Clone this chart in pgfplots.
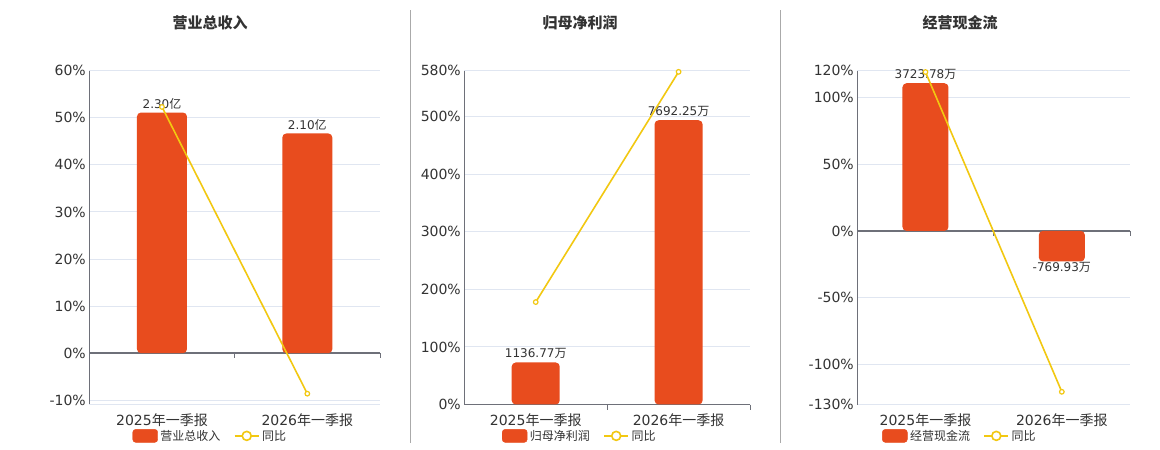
\documentclass[border=0pt]{standalone}
\usepackage{pgfplots}
\pgfplotsset{compat=1.18}
\usepackage{fontspec}
\setmainfont{DejaVu Sans}
\newfontfamily\cjk{Noto Sans CJK SC}
\definecolor{barred}{HTML}{E84C1E}
\definecolor{lineyel}{HTML}{F2C811}
\definecolor{gridc}{HTML}{E0E6F1}
\definecolor{axisc}{HTML}{6E7079}
\definecolor{txt}{HTML}{333333}
\definecolor{sepc}{HTML}{AAAAAA}
\newcommand\tickfont{\fontsize{14bp}{16bp}\selectfont}
\newcommand\lblfont{\fontsize{12bp}{14bp}\selectfont}
\pgfplotsset{
  panel/.style={scale only axis, anchor=south west, height=333.8bp,
    xmin=-0.5, xmax=1.5, clip=false},
  hidden/.style={panel, axis lines=none, xtick=\empty, ytick=\empty},
  frameax/.style={panel, axis x line*=bottom, axis y line*=left,
    x axis line style={draw=none}, y axis line style={axisc, line width=1bp, -},
    xtick={0,1}, xticklabels={2025{\cjk 年一季报}, 2026{\cjk 年一季报}},
    major tick length=0pt, xtick style={draw=none}, ytick style={draw=none},
    ymajorgrids, grid style={gridc, line width=1bp},
    yticklabel style={font=\tickfont, text=txt},
    xticklabel style={font=\tickfont, text=txt, yshift=-6bp}},
  barplot/.style={ybar, fill=barred, draw=none, rounded corners=4bp,
    point meta=explicit symbolic, nodes near coords={\pgfplotspointmeta},
    visualization depends on={y \as \rawy},
    every node near coord/.append style={font=\lblfont, text=txt, rounded corners=0pt},
    every node near coord/.append code={\ifdim\rawy pt<0pt \pgfkeysalso{anchor=north, inner sep=1bp}\fi}},
  lineplot/.style={lineyel, line width=1.6bp, mark=*, mark size=2.3bp,
    mark options={fill=white, line width=1.2bp},
    legend image code/.code={
      \draw[lineyel, line width=1.6bp] (0bp,0bp) -- (24bp,0bp);
      \draw[lineyel, line width=1.6bp, fill=white] (12bp,0bp) circle (4.5bp);}},
  barlegend/.style={legend image code/.code={
      \fill[barred, rounded corners=3bp] (0bp,-6.5bp) rectangle (25bp,6.5bp);}},
  mylegend/.style={legend style={at={(#1,-0.094)}, anchor=center, draw=none, fill=none,
    legend columns=2, font=\lblfont, text=txt,
    nodes={inner sep=2.5bp},
    /tikz/every even column/.append style={column sep=11bp}}}
}
\begin{document}
\begin{tikzpicture}
\path[use as bounding box, fill=white] (0bp,0bp) rectangle (1160bp,450bp);
\draw[sepc, line width=1bp] (410bp,7bp) -- (410bp,440bp);
\draw[sepc, line width=1bp] (780bp,7bp) -- (780bp,440bp);
\node[font=\fontsize{15bp}{18bp}\selectfont\bfseries\cjk, text=txt] at (210bp,427bp) {营业总收入};
\node[font=\fontsize{15bp}{18bp}\selectfont\bfseries\cjk, text=txt] at (580bp,427bp) {归母净利润};
\node[font=\fontsize{15bp}{18bp}\selectfont\bfseries\cjk, text=txt] at (960bp,427bp) {经营现金流};

% ---------- Panel 1 ----------
\begin{axis}[frameax, at={(89.3bp,45.5bp)}, width=290.7bp, ymin=-10.9, ymax=60,
  ytick={-10,0,10,...,60}, yticklabels={-10\%,0\%,10\%,20\%,30\%,40\%,50\%,60\%}]
  \draw[gridc, line width=1bp] (axis cs:-0.5,-10.9) -- (axis cs:1.5,-10.9);
  \draw[axisc, line width=1.5bp] (axis cs:-0.5,0) -- (axis cs:1.5,0);
  \draw[axisc, line width=1bp] (axis cs:0.5,0) -- ++(0bp,-5bp);
  \draw[axisc, line width=1bp] (axis cs:1.5,0) -- ++(0bp,-5bp);
\end{axis}
\begin{axis}[hidden, at={(89.3bp,45.5bp)}, width=290.7bp, ymin=-0.4905, ymax=2.700]
  \addplot[barplot, bar width=50bp] coordinates {(0,2.30) [2.30{\cjk 亿}] (1,2.10) [2.10{\cjk 亿}]};
\end{axis}
\begin{axis}[hidden, at={(89.3bp,45.5bp)}, width=290.7bp, ymin=-10.9, ymax=60, mylegend=0.417]
  \addlegendimage{barlegend}
  \addlegendentry{{\cjk 营业总收入}}
  \addplot[lineplot] coordinates {(0,52.3) (1,-8.6)};
  \addlegendentry{{\cjk 同比}}
\end{axis}

% ---------- Panel 2 ----------
\begin{axis}[frameax, at={(464.3bp,45.5bp)}, width=285.7bp, ymin=0, ymax=580,
  ytick={0,100,200,300,400,500,580}, yticklabels={0\%,100\%,200\%,300\%,400\%,500\%,580\%}]
  \draw[axisc, line width=1.5bp] (axis cs:-0.5,0) -- (axis cs:1.5,0);
  \draw[axisc, line width=1bp] (axis cs:0.5,0) -- ++(0bp,-5bp);
  \draw[axisc, line width=1bp] (axis cs:1.5,0) -- ++(0bp,-5bp);
\end{axis}
\begin{axis}[hidden, at={(464.3bp,45.5bp)}, width=285.7bp, ymin=0, ymax=9033]
  \addplot[barplot, bar width=48bp] coordinates {(0,1136.77) [1136.77{\cjk 万}] (1,7692.25) [7692.25{\cjk 万}]};
\end{axis}
\begin{axis}[hidden, at={(464.3bp,45.5bp)}, width=285.7bp, ymin=0, ymax=580, mylegend=0.405]
  \addlegendimage{barlegend}
  \addlegendentry{{\cjk 归母净利润}}
  \addplot[lineplot] coordinates {(0,178) (1,578)};
  \addlegendentry{{\cjk 同比}}
\end{axis}

% ---------- Panel 3 ----------
\begin{axis}[frameax, at={(857.3bp,45.5bp)}, width=272.7bp, ymin=-130, ymax=120,
  ytick={-130,-100,-50,0,50,100,120}, yticklabels={-130\%,-100\%,-50\%,0\%,50\%,100\%,120\%}]
  \draw[axisc, line width=1.5bp] (axis cs:-0.5,0) -- (axis cs:1.5,0);
  \draw[axisc, line width=1bp] (axis cs:0.5,0) -- ++(0bp,-5bp);
  \draw[axisc, line width=1bp] (axis cs:1.5,0) -- ++(0bp,-5bp);
\end{axis}
\begin{axis}[hidden, at={(857.3bp,45.5bp)}, width=272.7bp, ymin=-4377, ymax=4040]
  \addplot[barplot, bar width=46bp] coordinates {(0,3723.78) [3723.78{\cjk 万}] (1,-769.93) [-769.93{\cjk 万}]};
\end{axis}
\begin{axis}[hidden, at={(857.3bp,45.5bp)}, width=272.7bp, ymin=-130, ymax=120, mylegend=0.377]
  \addlegendimage{barlegend}
  \addlegendentry{{\cjk 经营现金流}}
  \addplot[lineplot] coordinates {(0,119) (1,-120.5)};
  \addlegendentry{{\cjk 同比}}
\end{axis}
\end{tikzpicture}
\end{document}
